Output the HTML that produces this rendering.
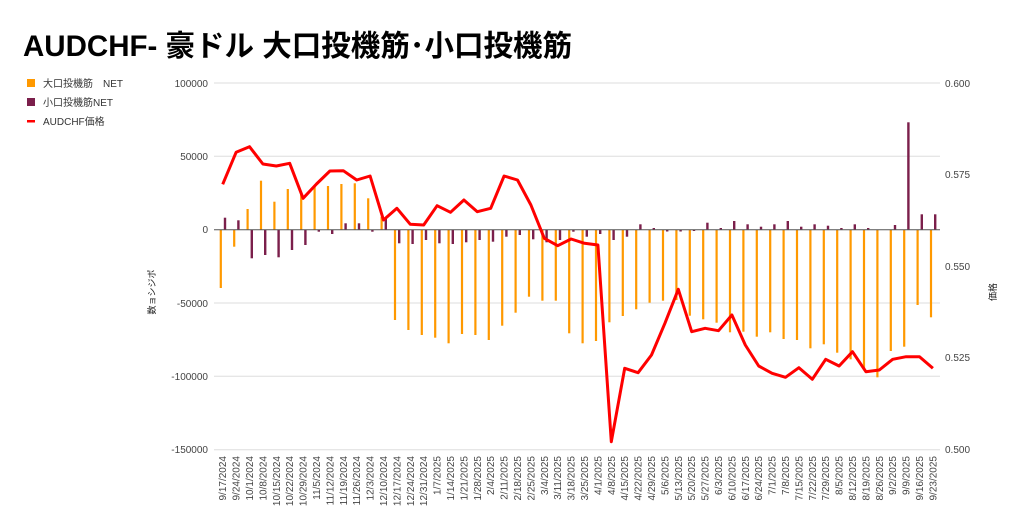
<!DOCTYPE html>
<html><head><meta charset="utf-8"><style>
body{margin:0;background:#fff;}
svg{display:block;font-family:"Liberation Sans","Noto Sans CJK JP",sans-serif;}
</style></head><body>
<svg width="1024" height="532" viewBox="0 0 1024 532" xmlns="http://www.w3.org/2000/svg">
<text x="23" y="56" font-size="29.5" font-weight="bold" fill="#000">AUDCHF- 豪ドル 大口投機筋･小口投機筋</text>
<rect x="27" y="79" width="8" height="8" fill="#ff9900"/>
<text x="43" y="87" font-size="10" fill="#333">大口投機筋　NET</text>
<rect x="27" y="98" width="8" height="8" fill="#7b1f4b"/>
<text x="43" y="106" font-size="10" fill="#333">小口投機筋NET</text>
<rect x="27" y="120" width="8" height="2.5" fill="#ff0000"/>
<text x="43" y="125" font-size="10" fill="#333">AUDCHF価格</text>
<g stroke="#dddddd" stroke-width="1">
<line x1="214" y1="83" x2="940" y2="83"/><line x1="214" y1="156.3" x2="940" y2="156.3"/>
<line x1="214" y1="303" x2="940" y2="303"/><line x1="214" y1="376.3" x2="940" y2="376.3"/>
<line x1="214" y1="449.7" x2="940" y2="449.7"/>
</g>
<g font-size="10" fill="#444" text-anchor="end">
<text x="208" y="87">100000</text><text x="208" y="160">50000</text><text x="208" y="233">0</text>
<text x="208" y="307">-50000</text><text x="208" y="380">-100000</text><text x="208" y="453">-150000</text>
</g>
<g font-size="10" fill="#444">
<text x="945" y="87">0.600</text><text x="945" y="178">0.575</text><text x="945" y="270">0.550</text>
<text x="945" y="361">0.525</text><text x="945" y="453">0.500</text>
</g>
<text transform="translate(155,292) rotate(-90)" font-size="9" fill="#222" text-anchor="middle">数ョシジポ</text>
<text transform="translate(996,292) rotate(-90)" font-size="9" fill="#222" text-anchor="middle">価格</text>
<g fill="#ff9900">
<rect x="219.7" y="230" width="2.2" height="58"/><rect x="233.1" y="230" width="2.2" height="16.7"/>
<rect x="246.5" y="209" width="2.2" height="21"/><rect x="259.9" y="180.7" width="2.2" height="49.3"/>
<rect x="273.3" y="201.7" width="2.2" height="28.3"/><rect x="286.7" y="189" width="2.2" height="41"/>
<rect x="300.1" y="193" width="2.2" height="37"/><rect x="313.5" y="186.7" width="2.2" height="43.3"/>
<rect x="326.9" y="186" width="2.2" height="44"/><rect x="340.3" y="184" width="2.2" height="46"/>
<rect x="353.7" y="183.3" width="2.2" height="46.7"/><rect x="367.1" y="198.3" width="2.2" height="31.7"/>
<rect x="380.5" y="216.7" width="2.2" height="13.3"/><rect x="393.9" y="230" width="2.2" height="90"/>
<rect x="407.3" y="230" width="2.2" height="100"/><rect x="420.7" y="230" width="2.2" height="105"/>
<rect x="434.1" y="230" width="2.2" height="107.7"/><rect x="447.5" y="230" width="2.2" height="113.3"/>
<rect x="460.9" y="230" width="2.2" height="104"/><rect x="474.3" y="230" width="2.2" height="105"/>
<rect x="487.7" y="230" width="2.2" height="110"/><rect x="501.1" y="230" width="2.2" height="95.7"/>
<rect x="514.5" y="230" width="2.2" height="82.7"/><rect x="527.9" y="230" width="2.2" height="66.7"/>
<rect x="541.3" y="230" width="2.2" height="70.7"/><rect x="554.7" y="230" width="2.2" height="70.7"/>
<rect x="568.1" y="230" width="2.2" height="103.3"/><rect x="581.5" y="230" width="2.2" height="113.3"/>
<rect x="594.9" y="230" width="2.2" height="111"/><rect x="608.3" y="230" width="2.2" height="92.3"/>
<rect x="621.7" y="230" width="2.2" height="86"/><rect x="635.1" y="230" width="2.2" height="79.3"/>
<rect x="648.5" y="230" width="2.2" height="72.7"/><rect x="661.9" y="230" width="2.2" height="70.7"/>
<rect x="675.3" y="230" width="2.2" height="70"/><rect x="688.7" y="230" width="2.2" height="85.7"/>
<rect x="702.1" y="230" width="2.2" height="89.3"/><rect x="715.5" y="230" width="2.2" height="92.7"/>
<rect x="728.9" y="230" width="2.2" height="102.3"/><rect x="742.3" y="230" width="2.2" height="101.7"/>
<rect x="755.7" y="230" width="2.2" height="106.7"/><rect x="769.1" y="230" width="2.2" height="102.3"/>
<rect x="782.5" y="230" width="2.2" height="109"/><rect x="795.9" y="230" width="2.2" height="110"/>
<rect x="809.3" y="230" width="2.2" height="118.3"/><rect x="822.7" y="230" width="2.2" height="114.3"/>
<rect x="836.1" y="230" width="2.2" height="122.7"/><rect x="849.5" y="230" width="2.2" height="129.3"/>
<rect x="862.9" y="230" width="2.2" height="140"/><rect x="876.3" y="230" width="2.2" height="147.3"/>
<rect x="889.7" y="230" width="2.2" height="121"/><rect x="903.1" y="230" width="2.2" height="116.7"/>
<rect x="916.5" y="230" width="2.2" height="75"/><rect x="929.9" y="230" width="2.2" height="87.3"/>
</g>
<g fill="#7b1f4b">
<rect x="223.8" y="217.7" width="2.4" height="12.3"/><rect x="237.2" y="220.3" width="2.4" height="9.7"/>
<rect x="250.6" y="230" width="2.4" height="28.3"/><rect x="264.0" y="230" width="2.4" height="25"/>
<rect x="277.4" y="230" width="2.4" height="27.3"/><rect x="290.8" y="230" width="2.4" height="20"/>
<rect x="304.2" y="230" width="2.4" height="15"/><rect x="317.6" y="230" width="2.4" height="1.7"/>
<rect x="331.0" y="230" width="2.4" height="4"/><rect x="344.4" y="223.3" width="2.4" height="6.7"/>
<rect x="357.8" y="223.3" width="2.4" height="6.7"/><rect x="371.2" y="230" width="2.4" height="1.7"/>
<rect x="384.6" y="218" width="2.4" height="12"/><rect x="398.0" y="230" width="2.4" height="13.3"/>
<rect x="411.4" y="230" width="2.4" height="14"/><rect x="424.8" y="230" width="2.4" height="10"/>
<rect x="438.2" y="230" width="2.4" height="13.3"/><rect x="451.6" y="230" width="2.4" height="14"/>
<rect x="465.0" y="230" width="2.4" height="12.3"/><rect x="478.4" y="230" width="2.4" height="10"/>
<rect x="491.8" y="230" width="2.4" height="11.7"/><rect x="505.2" y="230" width="2.4" height="6.7"/>
<rect x="518.6" y="230" width="2.4" height="5"/><rect x="532.0" y="230" width="2.4" height="9.3"/>
<rect x="545.4" y="230" width="2.4" height="12.3"/><rect x="558.8" y="230" width="2.4" height="10"/>
<rect x="572.2" y="230" width="2.4" height="1.7"/><rect x="585.6" y="230" width="2.4" height="6.7"/>
<rect x="599.0" y="230" width="2.4" height="4"/><rect x="612.4" y="230" width="2.4" height="10"/>
<rect x="625.8" y="230" width="2.4" height="6.7"/><rect x="639.2" y="224.3" width="2.4" height="5.7"/>
<rect x="652.6" y="228" width="2.4" height="2"/><rect x="666.0" y="230" width="2.4" height="1.5"/>
<rect x="679.4" y="230" width="2.4" height="1.5"/><rect x="692.8" y="230" width="2.4" height="1"/>
<rect x="706.2" y="222.7" width="2.4" height="7.3"/><rect x="719.6" y="228" width="2.4" height="2"/>
<rect x="733.0" y="221" width="2.4" height="9"/><rect x="746.4" y="224.3" width="2.4" height="5.7"/>
<rect x="759.8" y="226.7" width="2.4" height="3.3"/><rect x="773.2" y="224.3" width="2.4" height="5.7"/>
<rect x="786.6" y="221" width="2.4" height="9"/><rect x="800.0" y="226.7" width="2.4" height="3.3"/>
<rect x="813.4" y="224.3" width="2.4" height="5.7"/><rect x="826.8" y="225.7" width="2.4" height="4.3"/>
<rect x="840.2" y="228" width="2.4" height="2"/><rect x="853.6" y="224.3" width="2.4" height="5.7"/>
<rect x="867.0" y="228" width="2.4" height="2"/><rect x="893.8" y="225" width="2.4" height="5"/>
<rect x="907.2" y="122.3" width="2.4" height="107.7"/><rect x="920.6" y="214.3" width="2.4" height="15.7"/>
<rect x="934.0" y="214.3" width="2.4" height="15.7"/>
</g>
<line x1="214" y1="229.8" x2="940" y2="229.8" stroke="#555" stroke-width="1"/>
<polyline fill="none" stroke="#ff0000" stroke-width="3" stroke-linejoin="round" points="222.7,184.3 236.1,152.3 249.5,146.7 262.9,164 276.3,166 289.7,163.3 303.1,198.3 316.5,184 329.9,171 343.3,170.7 356.7,180 370.1,176 383.5,220 396.9,208.3 410.3,224.3 423.7,225 437.1,205.7 450.5,212.3 463.9,200 477.3,211.7 490.7,208.3 504.1,176 517.5,180 530.9,205 544.3,238.3 557.7,245.7 571.1,239 584.5,243.3 597.9,245 611.3,441.7 624.7,368.3 638.1,372.7 651.5,355 664.9,323.3 678.3,289.3 691.7,331.7 705.1,328.3 718.5,330.7 731.9,315 745.3,345 758.7,366 772.1,373.3 785.5,377.3 798.9,367.7 812.3,379.3 825.7,359.3 839.1,366 852.5,351.7 865.9,371.7 879.3,370 892.7,359.3 906.1,356.7 919.5,356.7 932.9,368.3"/>
<g font-size="10" fill="#444" text-anchor="end">
<text transform="translate(226.2,456) rotate(-90)">9/17/2024</text>
<text transform="translate(239.6,456) rotate(-90)">9/24/2024</text>
<text transform="translate(253.0,456) rotate(-90)">10/1/2024</text>
<text transform="translate(266.4,456) rotate(-90)">10/8/2024</text>
<text transform="translate(279.8,456) rotate(-90)">10/15/2024</text>
<text transform="translate(293.2,456) rotate(-90)">10/22/2024</text>
<text transform="translate(306.6,456) rotate(-90)">10/29/2024</text>
<text transform="translate(320.0,456) rotate(-90)">11/5/2024</text>
<text transform="translate(333.4,456) rotate(-90)">11/12/2024</text>
<text transform="translate(346.8,456) rotate(-90)">11/19/2024</text>
<text transform="translate(360.2,456) rotate(-90)">11/26/2024</text>
<text transform="translate(373.6,456) rotate(-90)">12/3/2024</text>
<text transform="translate(387.0,456) rotate(-90)">12/10/2024</text>
<text transform="translate(400.4,456) rotate(-90)">12/17/2024</text>
<text transform="translate(413.8,456) rotate(-90)">12/24/2024</text>
<text transform="translate(427.2,456) rotate(-90)">12/31/2024</text>
<text transform="translate(440.6,456) rotate(-90)">1/7/2025</text>
<text transform="translate(454.0,456) rotate(-90)">1/14/2025</text>
<text transform="translate(467.4,456) rotate(-90)">1/21/2025</text>
<text transform="translate(480.8,456) rotate(-90)">1/28/2025</text>
<text transform="translate(494.2,456) rotate(-90)">2/4/2025</text>
<text transform="translate(507.6,456) rotate(-90)">2/11/2025</text>
<text transform="translate(521.0,456) rotate(-90)">2/18/2025</text>
<text transform="translate(534.4,456) rotate(-90)">2/25/2025</text>
<text transform="translate(547.8,456) rotate(-90)">3/4/2025</text>
<text transform="translate(561.2,456) rotate(-90)">3/11/2025</text>
<text transform="translate(574.6,456) rotate(-90)">3/18/2025</text>
<text transform="translate(588.0,456) rotate(-90)">3/25/2025</text>
<text transform="translate(601.4,456) rotate(-90)">4/1/2025</text>
<text transform="translate(614.8,456) rotate(-90)">4/8/2025</text>
<text transform="translate(628.2,456) rotate(-90)">4/15/2025</text>
<text transform="translate(641.6,456) rotate(-90)">4/22/2025</text>
<text transform="translate(655.0,456) rotate(-90)">4/29/2025</text>
<text transform="translate(668.4,456) rotate(-90)">5/6/2025</text>
<text transform="translate(681.8,456) rotate(-90)">5/13/2025</text>
<text transform="translate(695.2,456) rotate(-90)">5/20/2025</text>
<text transform="translate(708.6,456) rotate(-90)">5/27/2025</text>
<text transform="translate(722.0,456) rotate(-90)">6/3/2025</text>
<text transform="translate(735.4,456) rotate(-90)">6/10/2025</text>
<text transform="translate(748.8,456) rotate(-90)">6/17/2025</text>
<text transform="translate(762.2,456) rotate(-90)">6/24/2025</text>
<text transform="translate(775.6,456) rotate(-90)">7/1/2025</text>
<text transform="translate(789.0,456) rotate(-90)">7/8/2025</text>
<text transform="translate(802.4,456) rotate(-90)">7/15/2025</text>
<text transform="translate(815.8,456) rotate(-90)">7/22/2025</text>
<text transform="translate(829.2,456) rotate(-90)">7/29/2025</text>
<text transform="translate(842.6,456) rotate(-90)">8/5/2025</text>
<text transform="translate(856.0,456) rotate(-90)">8/12/2025</text>
<text transform="translate(869.4,456) rotate(-90)">8/19/2025</text>
<text transform="translate(882.8,456) rotate(-90)">8/26/2025</text>
<text transform="translate(896.2,456) rotate(-90)">9/2/2025</text>
<text transform="translate(909.6,456) rotate(-90)">9/9/2025</text>
<text transform="translate(923.0,456) rotate(-90)">9/16/2025</text>
<text transform="translate(936.4,456) rotate(-90)">9/23/2025</text>
</g>
</svg>
</body></html>
